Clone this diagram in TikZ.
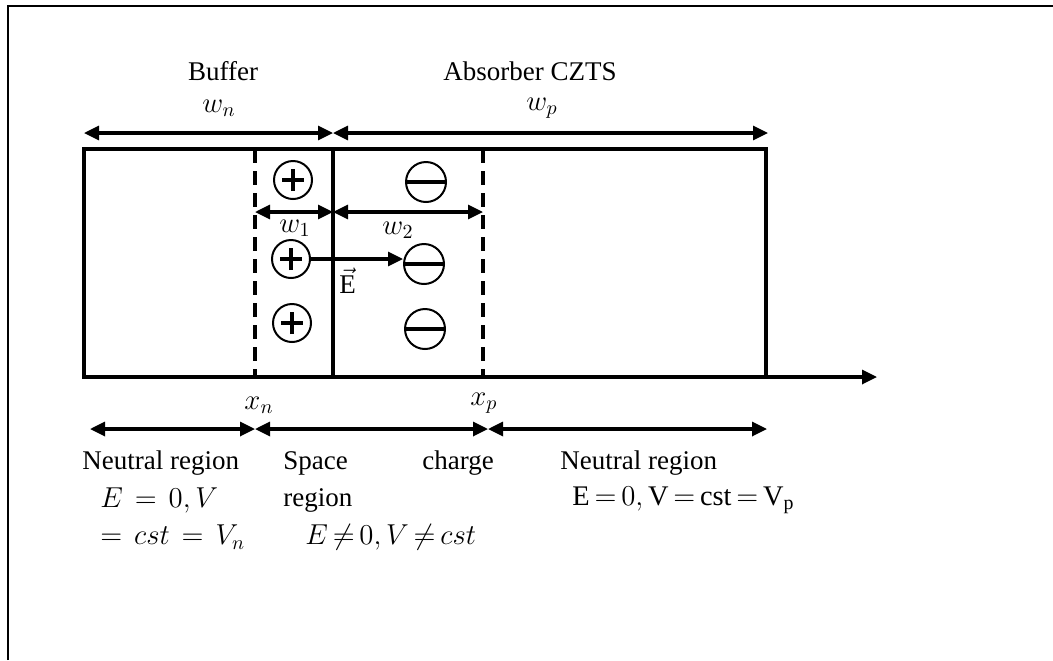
\documentclass[tikz,border=0pt]{standalone}
\usepackage{fontspec}
\setmainfont{Liberation Serif}
\usetikzlibrary{arrows.meta}
\thickmuskip=3mu plus 2mu
\begin{document}
\begin{tikzpicture}[x=0.5pt,y=-0.5pt,
  font=\fontsize{13.5pt}{16pt}\selectfont,
  heavy/.style={line width=1.6pt},
  dim/.style={heavy,{Triangle[length=7.5pt,width=7pt]}-{Triangle[length=7.5pt,width=7pt]}},
  dashline/.style={line width=2pt,dash pattern=on 7pt off 4pt},
  lbl/.style={inner sep=0pt},
  mth/.style={inner sep=0pt,font=\fontsize{14.2pt}{17pt}\selectfont},
  lw/.style={inner sep=0pt,anchor=west},
  lwm/.style={inner sep=0pt,anchor=west,font=\fontsize{14.2pt}{17pt}\selectfont},
  charge/.style={circle,draw,line width=1pt,minimum size=19pt,inner sep=0pt},
  plusc/.style={charge,path picture={
     \draw[line width=1.8pt] ([xshift=-5.5pt]path picture bounding box.center) -- ([xshift=5.5pt]path picture bounding box.center);
     \draw[line width=1.8pt] ([yshift=-5.5pt]path picture bounding box.center) -- ([yshift=5.5pt]path picture bounding box.center);}},
  minusc/.style={charge,minimum height=20pt,path picture={
     \draw[line width=1.8pt] ([xshift=-12pt]path picture bounding box.center) -- ([xshift=12pt]path picture bounding box.center);}}
]
\useasboundingbox (0,0) rectangle (1053,660);
% outer frame (partly visible)
\draw[line width=1.1pt] (8,660) -- (8,6) -- (1053,6);

% main block
\draw[heavy] (84,149) rectangle (766,377);
\draw[heavy] (333,149) -- (333,377);
\draw[dashline] (255,149) -- (255,377);
\draw[dashline] (483,149) -- (483,377);
\coordinate (axS) at (766,377);
\coordinate (axE) at (877,377);
\draw[heavy,-{Triangle[length=7.5pt,width=7pt]}] (axS) -- (axE);

% top labels and widths
\node[lbl] (buffer) at (223,71) {Buffer};
\node[lbl] (absorber) at (530,71) {Absorber CZTS};
\node[mth] (wn) at (219,108) {$w_n$};
\node[mth] (wp) at (542,108) {$w_p$};
\coordinate (wnL) at (84,133);
\coordinate (wnR) at (333,133);
\coordinate (wpR) at (768,133);
\draw[dim] (wnL) -- (wnR);
\draw[dim] (wnR) -- (wpR);

% charges
\node[plusc] (p1) at (293,180) {};
\node[plusc] (p2) at (291,259) {};
\node[plusc] (p3) at (292,323) {};
\node[minusc] (m1) at (426,182) {};
\node[minusc] (m2) at (424,264) {};
\node[minusc] (m3) at (425,329) {};

% w1, w2
\coordinate (w1L) at (255,212);
\coordinate (w1R) at (333,212);
\coordinate (w2R) at (483,212);
\draw[dim] (w1L) -- (w1R);
\draw[dim] (w1R) -- (w2R);
\node[mth] (w1) at (295,228) {$w_1$};
\node[mth] (w2) at (398,230) {$w_2$};

% field
\draw[heavy,-{Triangle[length=7.5pt,width=7pt]}] (p2.east) -- (m2.west |- p2.east);
\node[lbl,anchor=west] (E) at (339,281) {$\vec{\mathrm{E}}$};

% bottom positions
\node[mth] (xn) at (259,405) {$x_n$};
\node[mth] (xp) at (484,403) {$x_p$};
\coordinate (b0) at (90,429);
\coordinate (b1) at (255,429);
\coordinate (b2) at (488,429);
\coordinate (b3) at (767,429);
\draw[dim] (b0) -- (b1);
\draw[dim] (b1) -- (b2);
\draw[dim] (b2) -- (b3);

% region texts
\node[lw] (nl1) at (82,463) {Neutral region};
\node[lwm] (nl2) at (100,500) {$E\ =\ 0,V$};
\node[lwm] (nl3) at (100,537) {$=\ cst\ =\ V_n$};
\node[lw] (sc1) at (283,463) {Space};
\node[lw] (sc2) at (283,500) {region};
\node[lw] (sc3) at (422,463) {charge};
\node[lwm] (sc4) at (305,537) {$E\neq 0,V\neq cst$};
\node[lw] (nr1) at (560,463) {Neutral region};
\node[lwm] (nr2) at (572,500) {$\mathrm{E}=0,\mathrm{V}=\mathrm{cst}=\mathrm{V_p}$};
\end{tikzpicture}
\end{document}
